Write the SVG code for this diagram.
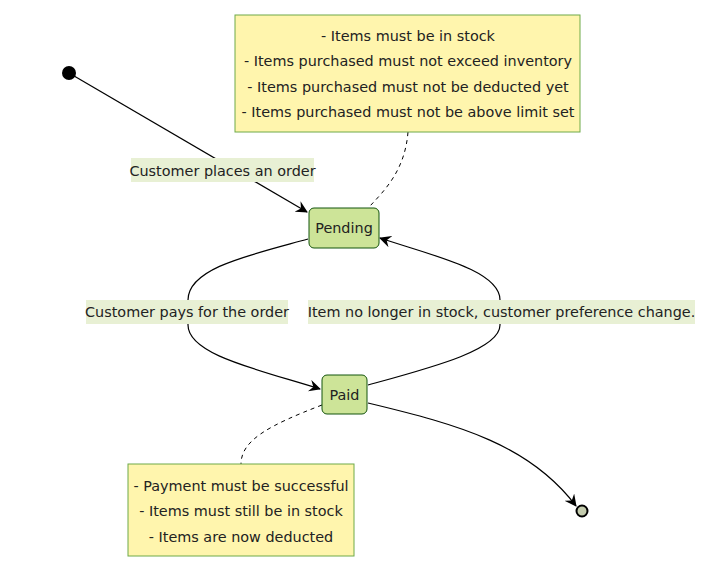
<svg xmlns="http://www.w3.org/2000/svg" width="719" height="566" viewBox="0 0 719 566">
<style>
text{font-family:"DejaVu Sans","Liberation Sans",sans-serif;font-size:14.4px;fill:#222;text-anchor:middle;dominant-baseline:central}
.state{fill:#cde498;stroke:#13540c;stroke-width:1}
.note{fill:#fff5ad;stroke:#6eaa49;stroke-width:1}
.edge{fill:none;stroke:#000;stroke-width:1.2}
.dash{fill:none;stroke:#000;stroke-width:1;stroke-dasharray:4 4}
.lbl{fill:#e8f0d4}
</style>
<defs>
<marker id="arr" viewBox="0 0 12 12" refX="11" refY="6" markerWidth="12" markerHeight="12" markerUnits="userSpaceOnUse" orient="auto">
<path d="M0,0 L12,6 L0,12 L4,6 Z" fill="#000"/>
</marker>
</defs>
<g id="connectors">
<path class="edge" d="M69,73 L307,212" marker-end="url(#arr)"/>
<path class="edge" d="M308,239 C250,255 188,268 188,300 L188,325 C188,355 260,370 320,389" marker-end="url(#arr)"/>
<path class="edge" d="M368,385 C430,368 500,350 500,325 L500,300 C500,270 430,255 380,238" marker-end="url(#arr)"/>
<path class="edge" d="M368,403 C460,425 530,445 576,506" marker-end="url(#arr)"/>
<path class="dash" d="M408,132 C405,170 385,190 370,206"/>
<path class="dash" d="M322,405 C270,425 241,440 241,464"/>
</g>
<g id="start"><circle cx="69" cy="73" r="7" fill="#000"/></g>
<g id="end"><circle cx="582" cy="511" r="5.5" fill="#c4ccae" stroke="#000" stroke-width="2"/></g>
<g id="note1">
<rect class="note" x="235" y="15" width="345" height="117"/>
<text x="408" y="36">- Items must be in stock</text>
<text x="408" y="61">- Items purchased must not exceed inventory</text>
<text x="408" y="87">- Items purchased must not be deducted yet</text>
<text x="408" y="112">- Items purchased must not be above limit set</text>
</g>
<g id="Pending">
<rect class="state" x="309" y="208" width="70" height="40" rx="5"/>
<text x="344" y="228">Pending</text>
</g>
<g id="Paid">
<rect class="state" x="322" y="375" width="45" height="39" rx="5"/>
<text x="344.5" y="394.5">Paid</text>
</g>
<g id="note2">
<rect class="note" x="128" y="464" width="226" height="92"/>
<text x="241" y="486">- Payment must be successful</text>
<text x="241" y="511">- Items must still be in stock</text>
<text x="241" y="537">- Items are now deducted</text>
</g>
<g id="labels">
<rect class="lbl" x="131" y="158" width="183" height="24"/>
<text x="222.5" y="171">Customer places an order</text>
<rect class="lbl" x="86" y="300" width="202" height="24"/>
<text x="187" y="312">Customer pays for the order</text>
<rect class="lbl" x="308" y="300" width="387" height="24"/>
<text x="501.5" y="312">Item no longer in stock, customer preference change.</text>
</g>
</svg>
